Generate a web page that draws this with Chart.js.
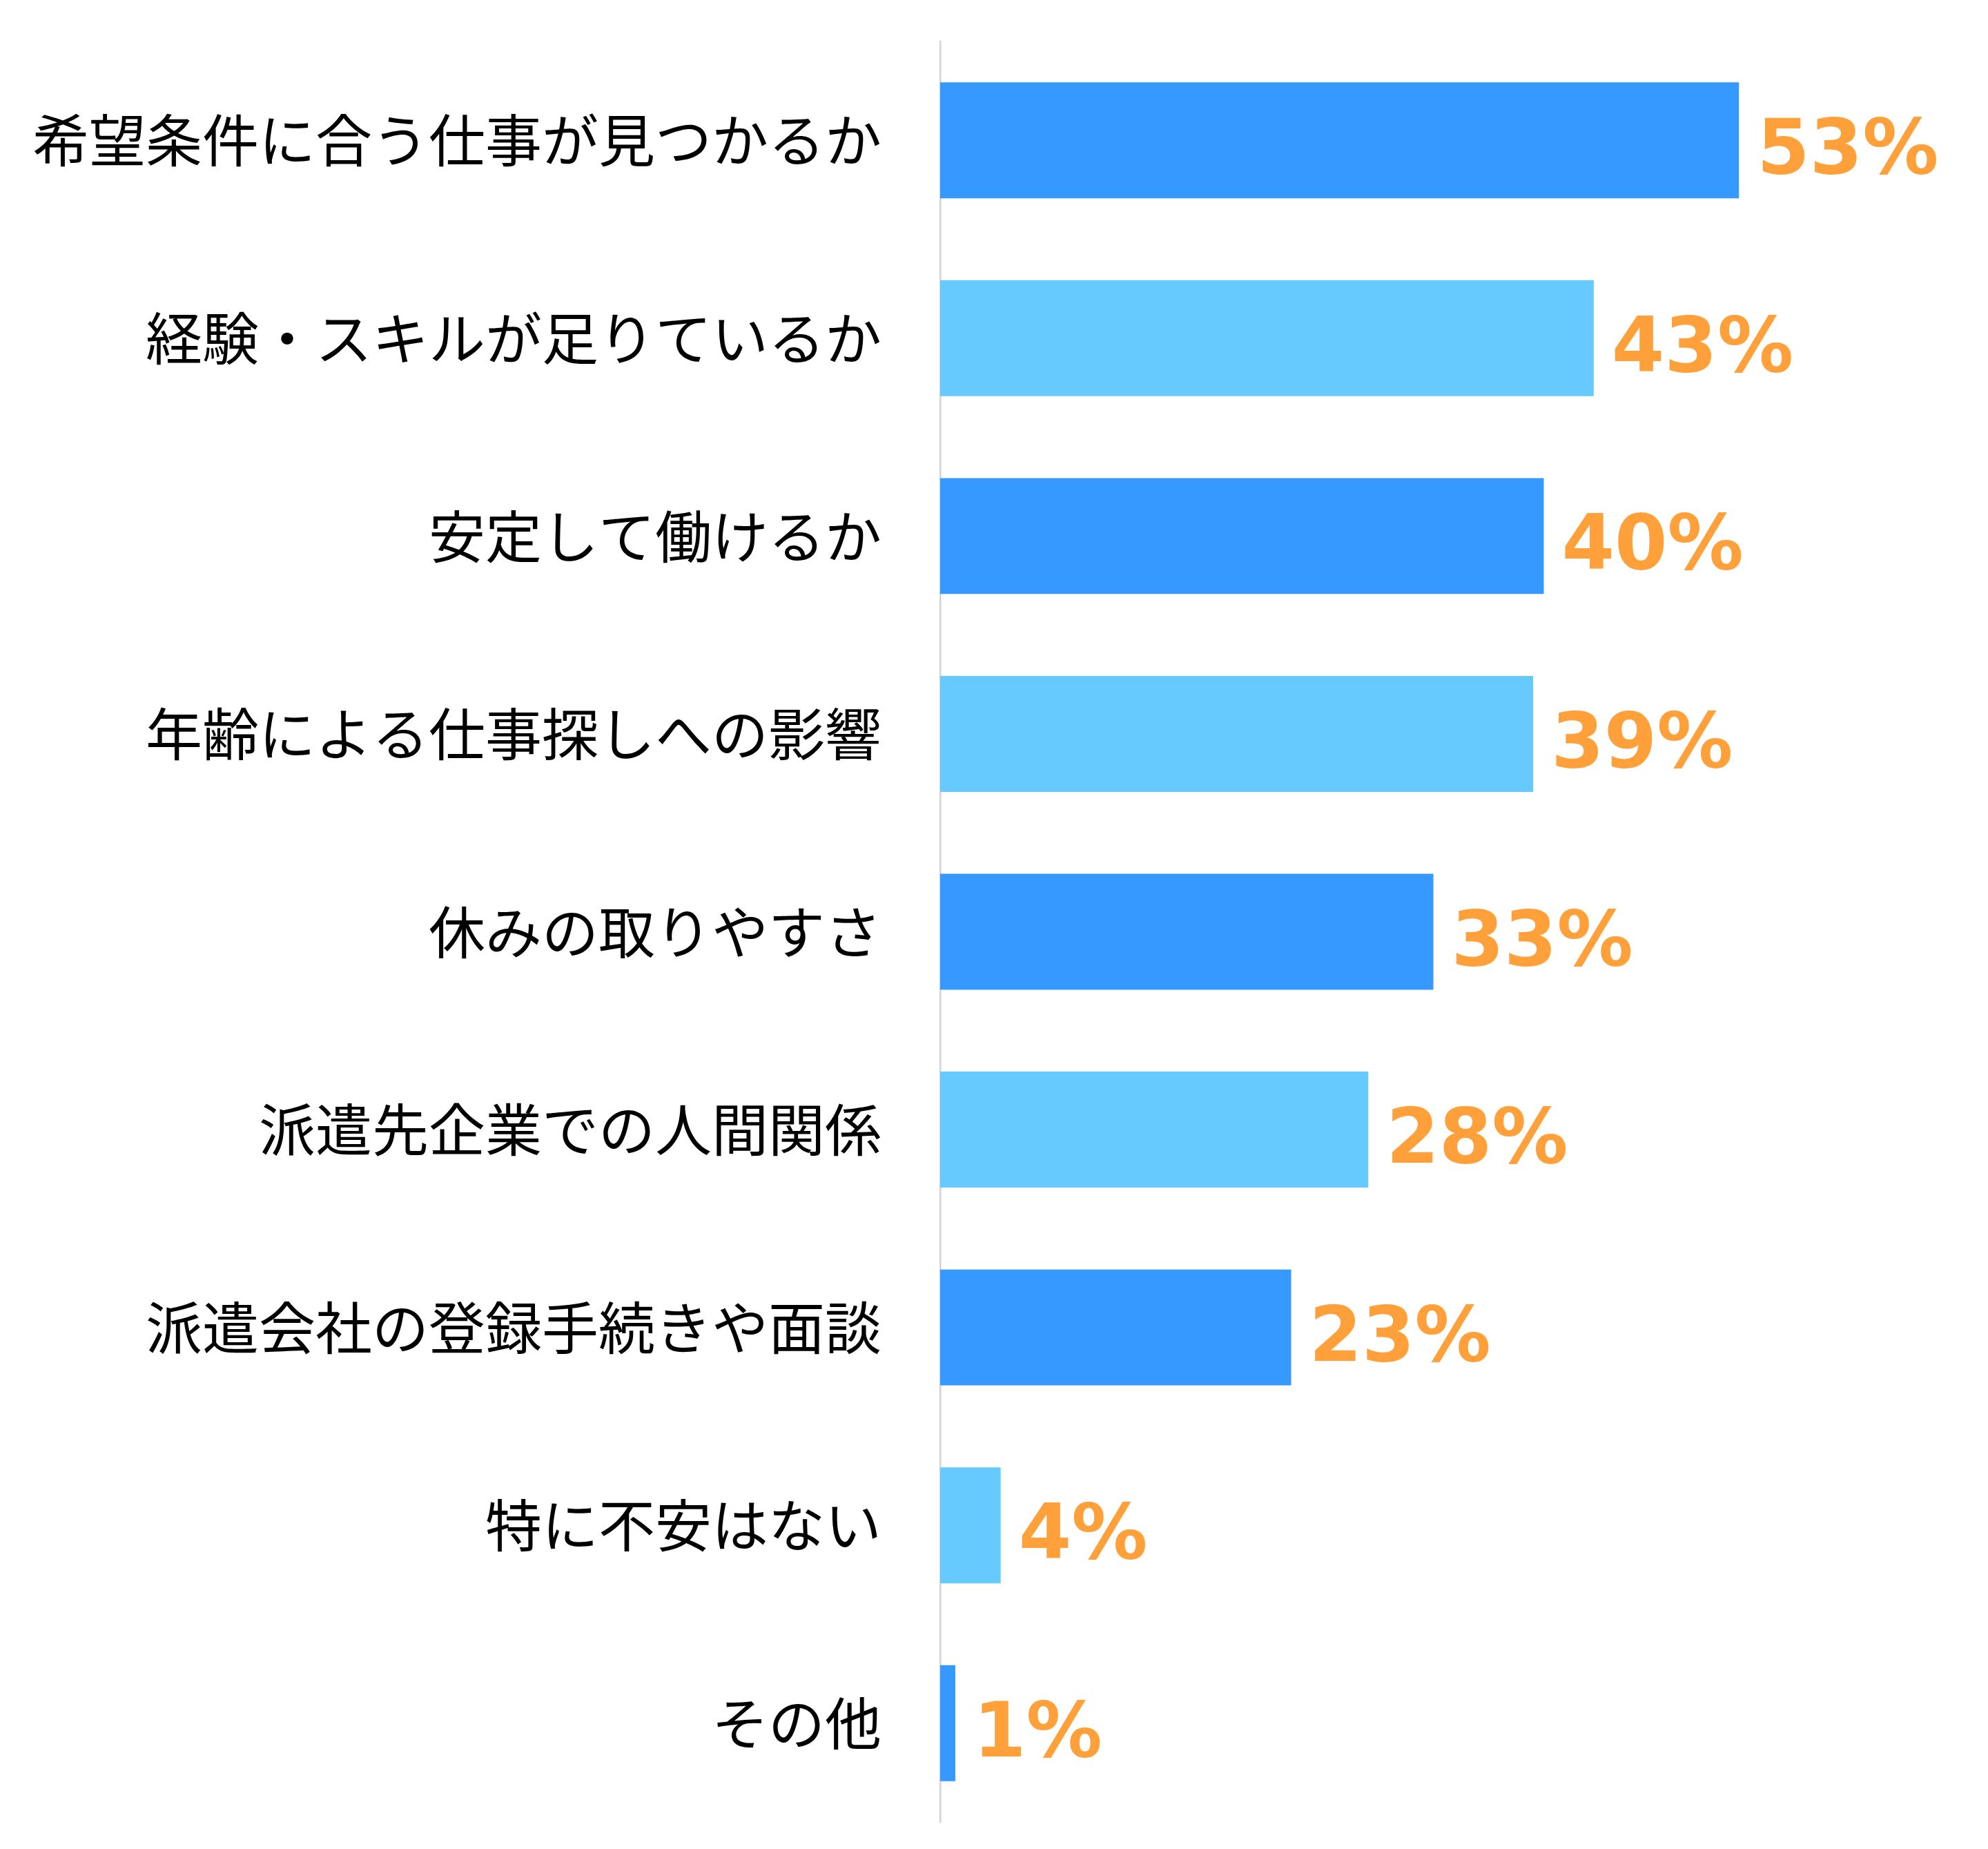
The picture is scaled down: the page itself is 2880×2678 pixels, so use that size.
<!DOCTYPE html>
<html>
<head>
<meta charset="utf-8">
<script src="https://cdn.jsdelivr.net/npm/chart.js@4/dist/chart.umd.min.js"></script>
<style>
html,body{margin:0;padding:0;background:#fff;}
#wrap{width:2880px;height:2678px;position:relative;}
</style>
</head>
<body>
<div id="wrap"><canvas id="c"></canvas></div>
<script>
const categories = [
  "希望条件に合う仕事が見つかるか",
  "経験・スキルが足りているか",
  "安定して働けるか",
  "年齢による仕事探しへの影響",
  "休みの取りやすさ",
  "派遣先企業での人間関係",
  "派遣会社の登録手続きや面談",
  "特に不安はない",
  "その他"
];
const values = [52.8, 43.2, 39.9, 39.2, 32.6, 28.3, 23.2, 4.0, 1.0];
const valueLabels = ["53%", "43%", "40%", "39%", "33%", "28%", "23%", "4%", "1%"];
const barColors = ["#3699FF", "#66CAFF", "#3699FF", "#66CAFF", "#3699FF", "#66CAFF", "#3699FF", "#66CAFF", "#3699FF"];

const valueLabelPlugin = {
  id: 'valueLabels',
  afterDatasetsDraw(chart) {
    const ctx = chart.ctx;
    const meta = chart.getDatasetMeta(0);
    ctx.save();
    ctx.fillStyle = '#FFA03A';
    ctx.font = 'bold 110px "DejaVu Sans"';
    ctx.textAlign = 'left';
    ctx.textBaseline = 'alphabetic';
    meta.data.forEach((bar, i) => {
      ctx.fillText(valueLabels[i], bar.x + 26, bar.y + 48);
    });
    ctx.restore();
  }
};

new Chart(document.getElementById('c'), {
  type: 'bar',
  data: {
    labels: categories,
    datasets: [{
      data: values,
      backgroundColor: barColors,
      borderWidth: 0,
      barPercentage: 0.586,
      categoryPercentage: 1.0
    }]
  },
  options: {
    indexAxis: 'y',
    responsive: true,
    maintainAspectRatio: false,
    animation: false,
    devicePixelRatio: 1,
    layout: { padding: { top: 60, bottom: 39, left: 0, right: 203 } },
    plugins: { legend: { display: false }, tooltip: { enabled: false } },
    scales: {
      x: { display: false, min: 0, max: 60 },
      y: {
        afterFit(scale) { scale.width = 1362; },
        grid: { display: true, drawOnChartArea: false, drawTicks: true, tickLength: 85, color: 'rgba(0,0,0,0)' },
        border: { display: true, color: '#D4D4D4', width: 2.5 },
        ticks: {
          padding: 0,
          color: '#000000',
          font: { family: '"Noto Sans CJK JP"', size: 82, lineHeight: 0.8 }
        }
      }
    }
  },
  plugins: [valueLabelPlugin]
});
</script>
</body>
</html>
